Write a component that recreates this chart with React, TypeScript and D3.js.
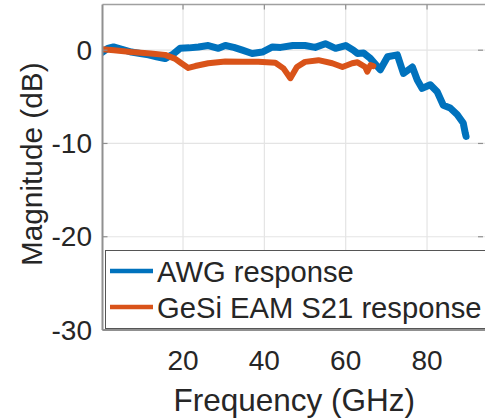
import React from "react";
import * as d3 from "d3";

const awgFreq = [0.2, 1.5, 2.9, 5, 7.3, 9.5, 11.5, 13.5, 15.6, 17.6, 19.3, 21.5, 23.8, 26.2, 28.7, 30.4, 32.5, 34.6, 37, 39.5, 42, 44, 47, 50, 52.5, 55, 57.5, 60, 61.9, 62.9, 64.4, 66.1, 68.5, 70.3, 72.7, 74.2, 76.4, 77.6, 78.8, 80.8, 82.5, 84, 85.7, 87.4, 88.9, 89.4, 89.6];
const awgDb = [-0.2, 0.2, 0.35, 0.1, -0.2, -0.35, -0.5, -0.7, -0.9, -0.4, 0.2, 0.25, 0.35, 0.5, 0.2, 0.5, 0.3, 0, -0.35, -0.2, 0.35, 0.3, 0.5, 0.5, 0.3, 0.7, 0.2, 0.5, 0, -0.35, -0.3, -0.9, -2.1, -0.7, -0.5, -2.5, -1.8, -3.2, -4.1, -3.7, -4.45, -5.9, -6.2, -6.9, -7.8, -8.9, -9.25];

const eamFreq = [0.2, 3, 7.3, 12, 15.6, 18, 19.6, 21.3, 23, 26.2, 30.4, 34.6, 38.5, 42.7, 44.7, 46.4, 48, 50, 53.3, 56.7, 59.2, 61.6, 62.9, 64.8, 65.3, 66.1, 66.8];
const eamDb = [0.1, 0, -0.2, -0.35, -0.5, -0.9, -1.4, -1.9, -1.7, -1.4, -1.2, -1.25, -1.25, -1.35, -1.95, -3.0, -1.8, -1.25, -1.07, -1.4, -1.8, -1.4, -1.3, -1.8, -2.3, -1.6, -1.7];

const xTicks = [20, 40, 60, 80];
const yTicks = [0, -10, -20, -30];
const seriesNames = ["AWG response", "GeSi EAM S21 response"];
const seriesColors = ["#0072BD", "#D95319"];

const W = 485, H = 420;
const L = 102.5, R = 486, T = 4.5, B = 330;
const FONT = "'Liberation Sans', Arial, Helvetica, sans-serif";
const TXT = "#262626";

export default function App() {
  const x = d3.scaleLinear().domain([0.2, 94.5]).range([L, R]);
  const y = d3.scaleLinear().domain([-30, 4.9]).range([B, T]);
  const line = d3.line<[number, number]>().x(d => x(d[0])).y(d => y(d[1]));
  const awg = awgFreq.map((f, i) => [f, awgDb[i]] as [number, number]);
  const eam = eamFreq.map((f, i) => [f, eamDb[i]] as [number, number]);
  const tk = 5;
  return (
    <svg width={W} height={H} style={{ position: "absolute", left: 0, top: 0, background: "#fff" }}>
      <defs>
        <clipPath id="plot"><rect x={L} y={T} width={R - L} height={B - T} /></clipPath>
      </defs>
      {xTicks.map(t => (
        <line key={"gx" + t} x1={x(t)} x2={x(t)} y1={T} y2={B} stroke="#e4e4e4" strokeWidth={1.2} />
      ))}
      {yTicks.map(t => (
        <line key={"gy" + t} x1={L} x2={R} y1={y(t)} y2={y(t)} stroke="#e4e4e4" strokeWidth={1.2} />
      ))}
      <g clipPath="url(#plot)">
        <path d={line(awg) || ""} fill="none" stroke={seriesColors[0]} strokeWidth={7} strokeLinejoin="round" strokeLinecap="round" />
        <path d={line(eam) || ""} fill="none" stroke={seriesColors[1]} strokeWidth={6} strokeLinejoin="round" strokeLinecap="round" />
      </g>
      <line x1={L} x2={R} y1={T} y2={T} stroke="#a0a0a0" strokeWidth={1.5} />
      <line x1={L} x2={R} y1={B} y2={B} stroke="#909090" strokeWidth={2} />
      <line x1={L} x2={L} y1={T} y2={B} stroke="#909090" strokeWidth={2} />
      {xTicks.map(t => (
        <g key={"tx" + t}>
          <line x1={x(t)} x2={x(t)} y1={B} y2={B - tk} stroke="#909090" strokeWidth={1.2} />
          <line x1={x(t)} x2={x(t)} y1={T} y2={T + tk} stroke="#909090" strokeWidth={1.2} />
        </g>
      ))}
      {yTicks.map(t => (
        <g key={"ty" + t}>
          <line x1={L} x2={L + tk} y1={y(t)} y2={y(t)} stroke="#909090" strokeWidth={1.2} />
          <line x1={R - 3} x2={R - 3 - tk} y1={y(t)} y2={y(t)} stroke="#909090" strokeWidth={1.2} />
        </g>
      ))}
      <rect x={105.5} y={250.5} width={400} height={78} fill="#fff" stroke="#555" strokeWidth={1} />
      {seriesNames.map((n, i) => (
        <g key={n}>
          <line x1={110} x2={153} y1={271 + i * 36} y2={271 + i * 36} stroke={seriesColors[i]} strokeWidth={4.5} />
          <text x={157} y={282 + i * 36} fontFamily={FONT} fontSize={29.2} fill={TXT}>{n}</text>
        </g>
      ))}
      {xTicks.map(t => (
        <text key={"lx" + t} x={x(t)} y={370} textAnchor="middle" fontFamily={FONT} fontSize={28} fill={TXT}>{t}</text>
      ))}
      {yTicks.map(t => (
        <text key={"ly" + t} x={92} y={y(t) + 9.5} textAnchor="end" fontFamily={FONT} fontSize={28} fill={TXT}>{t}</text>
      ))}
      <text x={(L + R) / 2} y={411} textAnchor="middle" fontFamily={FONT} fontSize={31.5} fill={TXT}>Frequency (GHz)</text>
      <text transform={`translate(42,${(T + B) / 2 - 3}) rotate(-90)`} textAnchor="middle" fontFamily={FONT} fontSize={29.8} fill={TXT}>Magnitude (dB)</text>
    </svg>
  );
}
